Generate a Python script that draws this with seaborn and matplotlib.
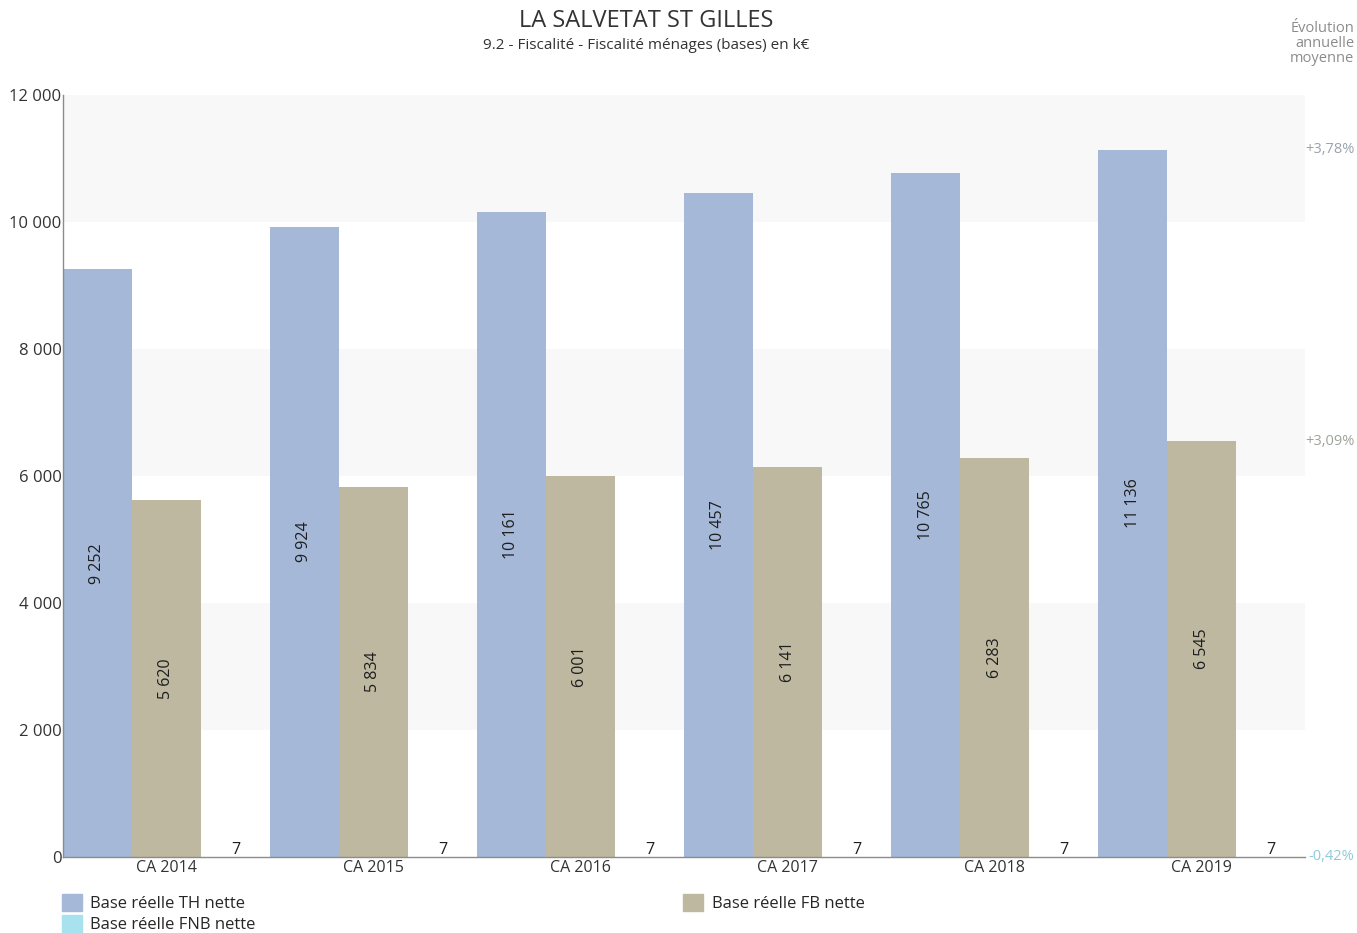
import pandas as pd
import matplotlib.pyplot as plt
import matplotlib.transforms as mtransforms
from matplotlib.patches import Patch
import seaborn as sns

# Chart data
years = ["CA 2014", "CA 2015", "CA 2016", "CA 2017", "CA 2018", "CA 2019"]
base_th = [9252, 9924, 10161, 10457, 10765, 11136]
base_fb = [5620, 5834, 6001, 6141, 6283, 6545]
base_fnb = [7, 7, 7, 7, 7, 7]
series_names = ["Base réelle TH nette", "Base réelle FB nette", "Base réelle FNB nette"]
evolutions = ["+3,78%", "+3,09%", "-0,42%"]
y_ticks = [0, 2000, 4000, 6000, 8000, 10000, 12000]

colors = ["#A5B8D8", "#BDB89F", "#A8E2EF"]
evo_colors = ["#9BA3AE", "#9FA59A", "#8CCBDB"]

sns.set_theme(style="white")
plt.rcParams['font.family'] = ['Open Sans', 'DejaVu Sans']

df = pd.DataFrame({
    "year": years * 3,
    "series": [series_names[0]] * 6 + [series_names[1]] * 6 + [series_names[2]] * 6,
    "value": base_th + base_fb + base_fnb,
})

fig = plt.figure(figsize=(13.57, 9.33), dpi=100)
ax = fig.add_axes([0.0464, 0.0815, 0.9153, 0.8167])

# alternating background bands
for lo in [2000, 6000, 10000]:
    ax.axhspan(lo, lo + 2000, color="#F8F8F8", zorder=0, lw=0)

sns.barplot(data=df, x="year", y="value", hue="series", palette=colors,
            width=1.0, saturation=1, legend=False, ax=ax, zorder=2,
            linewidth=0, edgecolor="none")

fmt = lambda v: f"{v:,.0f}".replace(",", " ")
for i, cont in enumerate(ax.containers):
    vals = [base_th, base_fb, base_fnb][i]
    labels = [fmt(v) for v in vals]
    if i < 2:
        ax.bar_label(cont, labels=labels, label_type="center", rotation=90,
                     fontsize=11.5, color="#1E1E1E")
    else:
        ax.bar_label(cont, labels=labels, label_type="edge", padding=-1,
                     fontsize=11.5, color="#1E1E1E")

ax.set_xlim(-0.5, 5.5)
ax.set_ylim(0, 12000)
ax.set_yticks(y_ticks)
ax.set_yticklabels([fmt(v) for v in y_ticks], fontsize=12, color="#333333")
ax.tick_params(axis="x", labelsize=11.5, labelcolor="#333333", pad=2, length=0)
ax.tick_params(axis="y", pad=1, length=0)
ax.set_xlabel("")
ax.set_ylabel("")
for s in ["top", "right"]:
    ax.spines[s].set_visible(False)
for s in ["left", "bottom"]:
    ax.spines[s].set_color("#8C8C8C")
    ax.spines[s].set_linewidth(1)

# evolution annotations on the right
trans = mtransforms.blended_transform_factory(fig.transFigure, ax.transData)
last_vals = [base_th[-1], base_fb[-1], base_fnb[-1]]
for txt, v, c in zip(evolutions, last_vals, evo_colors):
    ax.text(0.998, v, txt, transform=trans, ha="right", va="center",
            fontsize=10.5, color=c)
fig.text(0.998, 0.977, "Évolution\nannuelle\nmoyenne", ha="right", va="top",
         fontsize=10.5, color="#8C8C8C", linespacing=1.0)

# titles
fig.text(0.476, 0.977, "LA SALVETAT ST GILLES", ha="center", va="center",
         fontsize=17, color="#333333")
fig.text(0.476, 0.951, "9.2 - Fiscalité - Fiscalité ménages (bases) en k€",
         ha="center", va="center", fontsize=11, color="#333333")

# legend
handles = [Patch(color=colors[0], label=series_names[0]),
           Patch(color=colors[2], label=series_names[2]),
           Patch(color=colors[1], label=series_names[1])]
fig.legend(handles=handles, ncol=2, loc="upper left", bbox_to_anchor=(0.0457, 0.042),
           frameon=False, fontsize=12, handlelength=1.2, handleheight=1.2,
           handletextpad=0.5, columnspacing=25.65, labelspacing=0.2,
           borderpad=0, borderaxespad=0)

plt.savefig("out.png", dpi=100)
